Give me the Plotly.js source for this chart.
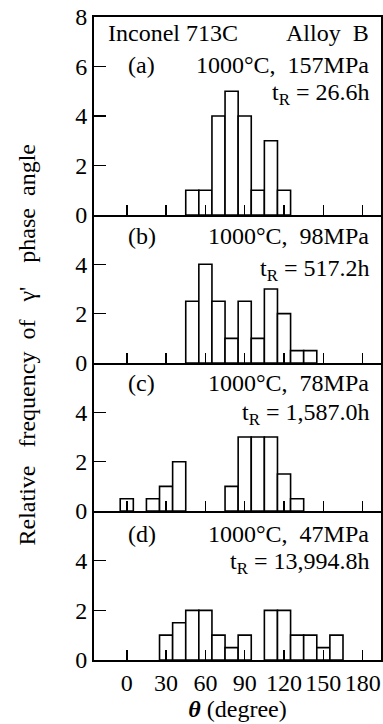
<!DOCTYPE html>
<html>
<head>
<meta charset="utf-8">
<script src="https://cdn.plot.ly/plotly-3.0.1.min.js"></script>
<style>
html,body{margin:0;padding:0;background:#fff;}
#chart{width:383px;height:724px;}
</style>
</head>
<body>
<div id="chart"></div>
<script>
// Bin centres (degrees) and relative frequencies for each panel
const thetaA = [50, 60, 70, 80, 90, 100, 110, 120];
const freqA  = [1, 1, 4, 5, 4, 1, 3, 1];

const thetaB = [50, 60, 70, 80, 90, 100, 110, 120, 130, 140];
const freqB  = [2.5, 4, 2.5, 1, 2.5, 1, 3, 2, 0.5, 0.5];

const thetaC = [0, 20, 30, 40, 80, 90, 100, 110, 120, 130];
const freqC  = [0.5, 0.5, 1, 2, 1, 3, 3, 3, 1.5, 0.5];

const thetaD = [30, 40, 50, 60, 70, 80, 90, 110, 120, 130, 140, 150, 160];
const freqD  = [1, 1.5, 2, 2, 1, 0.5, 1, 2, 2, 1, 1, 0.5, 1];

const xTicks = [0, 30, 60, 90, 120, 150, 180];
const panelLabels = ['(a)', '(b)', '(c)', '(d)'];
const conditions = ['1000°C,\u00a0 157MPa', '1000°C,\u00a0 98MPa', '1000°C,\u00a0 78MPa', '1000°C,\u00a0 47MPa'];
const rupture = ['t<sub>R</sub> = 26.6h', 't<sub>R</sub> = 517.2h', 't<sub>R</sub> = 1,587.0h', 't<sub>R</sub> = 13,994.8h'];

const FONT = 'Liberation Serif, Times New Roman, serif';
const FS = 24;
const barStyle = {color: '#ffffff', line: {color: '#000000', width: 1.6}};

function barTrace(x, y, xa, ya) {
  return {type: 'bar', x: x, y: y, width: 10, xaxis: xa, yaxis: ya,
          marker: barStyle, hoverinfo: 'x+y', showlegend: false};
}

const data = [
  barTrace(thetaA, freqA, 'x', 'y'),
  barTrace(thetaB, freqB, 'x2', 'y2'),
  barTrace(thetaC, freqC, 'x3', 'y3'),
  barTrace(thetaD, freqD, 'x4', 'y4')
];

function xAxis(anchor, showLabels, mirror) {
  return {
    anchor: anchor, range: [-25, 194], tickmode: 'array', tickvals: xTicks,
    ticktext: xTicks.map(String), showticklabels: showLabels,
    ticks: 'inside', ticklen: 10, tickwidth: 1.5, tickcolor: '#000',
    showline: true, linewidth: 2, linecolor: '#000', mirror: mirror,
    showgrid: false, zeroline: false, fixedrange: true,
    tickfont: {family: FONT, size: FS, color: '#000'}
  };
}
function yAxis(anchor, domain, top, vals) {
  return {
    anchor: anchor, domain: domain, range: [0, top], tickmode: 'array',
    tickvals: vals, ticktext: vals.map(String),
    ticks: 'inside', ticklen: 12, tickwidth: 1.5, tickcolor: '#000',
    showline: true, linewidth: 2, linecolor: '#000', mirror: true,
    showgrid: false, zeroline: false, fixedrange: true,
    tickfont: {family: FONT, size: FS, color: '#000'}
  };
}

const xa4 = xAxis('y4', true, false);
xa4.title = {text: '<b><i>θ</i></b> (degree)', font: {family: FONT, size: FS, color: '#000'}, standoff: 4};

const layout = {
  width: 383, height: 724,
  margin: {l: 94, r: 2, t: 17, b: 64, pad: 0},
  paper_bgcolor: '#fff', plot_bgcolor: '#fff',
  bargap: 0, showlegend: false,
  font: {family: FONT, size: FS, color: '#000'},
  xaxis: xAxis('y', false, true),
  xaxis2: xAxis('y2', false, false),
  xaxis3: xAxis('y3', false, false),
  xaxis4: xa4,
  yaxis: yAxis('x', [0.6921, 1], 8, [0, 2, 4, 6, 8]),
  yaxis2: yAxis('x2', [0.4619, 0.6921], 6, [0, 2, 4]),
  yaxis3: yAxis('x3', [0.2317, 0.4619], 6, [0, 2, 4]),
  yaxis4: yAxis('x4', [0, 0.2317], 6, [0, 2, 4]),
  annotations: []
};

const axPairs = [['x', 'y'], ['x2', 'y2'], ['x3', 'y3'], ['x4', 'y4']];
const labelY = [6.06, 5.14, 5.17, 5.06];
const tY     = [4.88, 3.76, 3.93, 3.9];
const f = {family: FONT, size: FS, color: '#000'};
for (let i = 0; i < 4; i++) {
  const [xr, yr] = axPairs[i];
  layout.annotations.push({xref: xr, yref: yr, x: 11.5, y: labelY[i], text: panelLabels[i],
    showarrow: false, xanchor: 'center', yanchor: 'middle', font: f});
  layout.annotations.push({xref: xr, yref: yr, x: 186, y: labelY[i], text: conditions[i],
    showarrow: false, xanchor: 'right', yanchor: 'middle', font: f});
  layout.annotations.push({xref: xr, yref: yr, x: 186, y: tY[i], text: rupture[i],
    showarrow: false, xanchor: 'right', yanchor: 'middle', font: f});
}
layout.annotations.push({xref: 'x', yref: 'y', x: -16, y: 7.35, text: 'Inconel 713C',
  showarrow: false, xanchor: 'left', yanchor: 'middle', font: f});
layout.annotations.push({xref: 'x', yref: 'y', x: 186, y: 7.35, text: 'Alloy\u00a0 B',
  showarrow: false, xanchor: 'right', yanchor: 'middle', font: f});
layout.annotations.push({xref: 'paper', yref: 'paper', x: -0.235, y: 0.49, xanchor: 'center', yanchor: 'middle',
  text: "Relative\u00a0\u00a0 frequency\u00a0 of\u00a0\u00a0 γ'\u00a0\u00a0\u00a0 phase\u00a0 angle", textangle: -90, showarrow: false, font: f});

Plotly.newPlot('chart', data, layout, {displayModeBar: false, staticPlot: true});
</script>
</body>
</html>
